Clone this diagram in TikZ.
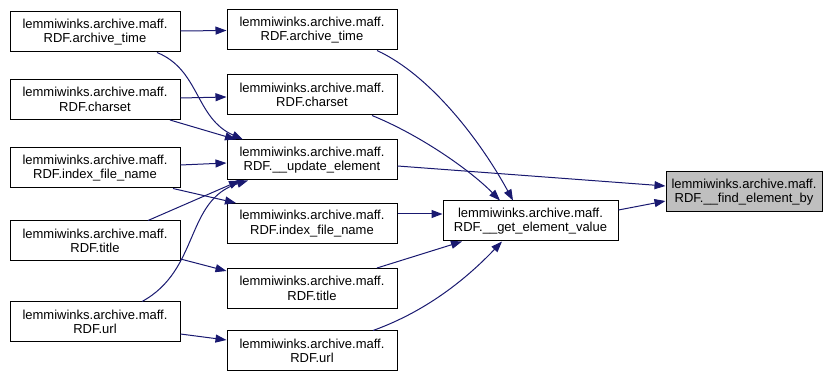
\documentclass[tikz,border=0pt]{standalone}
\usepackage{fontspec}
\setmainfont{Liberation Sans}
\usetikzlibrary{arrows.meta}
\definecolor{edgeblue}{HTML}{191970}
\begin{document}
\begin{tikzpicture}[x=1pt,y=-1pt,
  fn/.style={draw=black,line width=1pt,fill=white,minimum width=170pt,minimum height=40pt,inner sep=0pt,align=center,font=\fontsize{13}{14.5}\selectfont},
  hl/.style={fn,fill=black!25},
  ed/.style={draw=edgeblue,line width=1pt,-{Triangle[length=11pt,width=8pt]}}]
\useasboundingbox (0,0) rectangle (823,371);
\node[fn] (l1) at (95,32) {lemmiwinks.archive.maff.\\RDF.archive\_time};
\node[fn] (l2) at (95,99.5) {lemmiwinks.archive.maff.\\RDF.charset};
\node[fn] (l3) at (95,168) {lemmiwinks.archive.maff.\\RDF.index\_file\_name};
\node[fn] (l4) at (95,241) {lemmiwinks.archive.maff.\\RDF.title};
\node[fn] (l5) at (95,322) {lemmiwinks.archive.maff.\\RDF.url};
\node[fn] (m1) at (312,30) {lemmiwinks.archive.maff.\\RDF.archive\_time};
\node[fn] (m2) at (312,95) {lemmiwinks.archive.maff.\\RDF.charset};
\node[fn] (m3) at (312,160) {lemmiwinks.archive.maff.\\RDF.\_\_update\_element};
\node[fn] (m4) at (312,223.5) {lemmiwinks.archive.maff.\\RDF.index\_file\_name};
\node[fn] (m5) at (312,288.5) {lemmiwinks.archive.maff.\\RDF.title};
\node[fn] (m6) at (312,351) {lemmiwinks.archive.maff.\\RDF.url};
\node[fn,minimum width=175pt] (gev) at (530.5,221) {lemmiwinks.archive.maff.\\RDF.\_\_get\_element\_value};
\node[hl,minimum width=156pt] (feb) at (744,192) {lemmiwinks.archive.maff.\\RDF.\_\_find\_element\_by};
% edges
\draw[ed] (l1.east |- 0,31) -- (m1.west |- 0,30.5);
\draw[ed] (l1.south -| 157,0) .. controls (200,70) and (195,118) .. (m3.north -| 243,0);
\draw[ed] (l2.east |- 0,98) -- (m2.west |- 0,97);
\draw[ed] (l2.south -| 170,0) -- (m3.north -| 236,0);
\draw[ed] (l3.east |- 0,165) -- (m3.west |- 0,163);
\draw[ed] (l3.south -| 173,0) -- (m4.north -| 236,0);
\draw[ed] (l4.north -| 148,0) -- (m3.south -| 240,0);
\draw[ed] (l5.north -| 142,0) .. controls (200,270) and (185,200) .. (m3.south -| 248,0);
\draw[ed] (l4.east |- 0,259) -- (m5.west |- 0,271);
\draw[ed] (l5.east |- 0,334) -- (m6.west |- 0,340);
\draw[ed] (m1.south -| 377,0) .. controls (430,75) and (480,140) .. (gev.north -| 513,0);
\draw[ed] (m2.south -| 372,0) .. controls (420,135) and (470,170) .. (gev.north -| 500,0);
\draw[ed] (m3.east |- 0,166) -- (feb.west |- 0,186);
\draw[ed] (m4.east |- 0,214) -- (gev.west |- 0,214);
\draw[ed] (m5.north -| 377,0) -- (gev.south -| 462,0);
\draw[ed] (m6.north -| 373,0) .. controls (430,310) and (470,275) .. (gev.south -| 502,0);
\draw[ed] (gev.east |- 0,210) -- (feb.west |- 0,201);
\end{tikzpicture}
\end{document}
